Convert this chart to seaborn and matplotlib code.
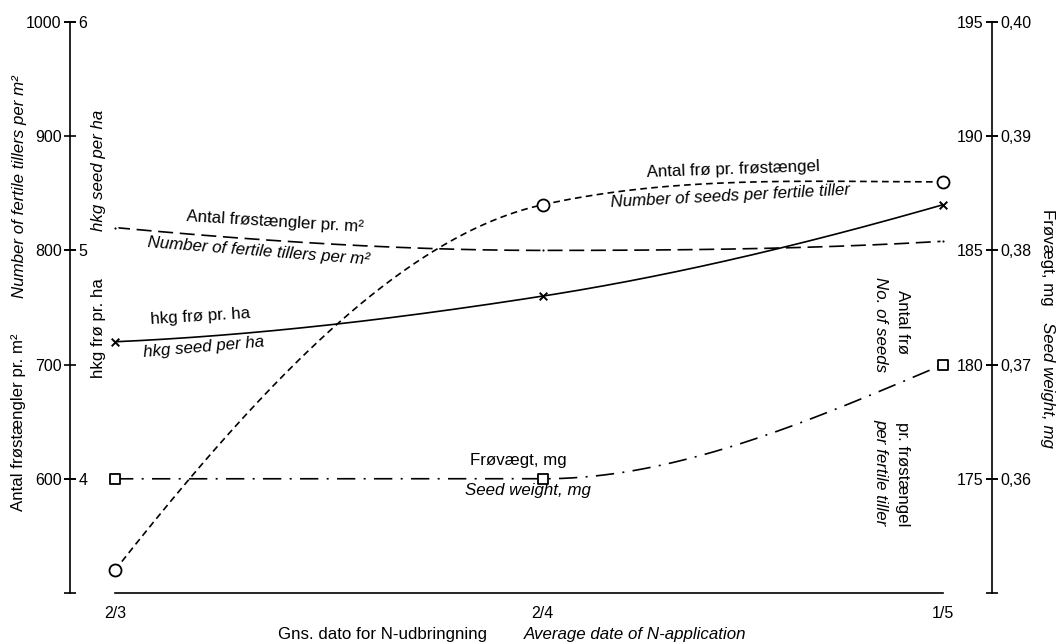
import numpy as np
import pandas as pd
import matplotlib
matplotlib.use("Agg")
import matplotlib.pyplot as plt
import seaborn as sns

# Average N-application dates (days after 2 March) and their labels
dates = [0, 31, 60]
date_labels = ["2/3", "2/4", "1/5"]

# Measured responses at each application date
tillers = [820, 800, 808]            # fertile tillers per m²
seed_yield = [4.6, 4.8, 5.2]         # hkg seed per ha
seeds_per_tiller = [171, 187, 188]   # number of seeds per fertile tiller
seed_weight = [0.36, 0.36, 0.37]     # seed weight, mg

# Axis scales
tiller_ticks = [600, 700, 800, 900, 1000]
yield_ticks = [4, 5, 6]
seed_ticks = [175, 180, 185, 190, 195]
weight_ticks = [0.36, 0.37, 0.38, 0.39, 0.40]
weight_labels = ["0,36", "0,37", "0,38", "0,39", "0,40"]

W, H = 1059, 643


def smooth_curve(x, y, n=240):
    """Cubic Hermite curve through the measured points (geometric-mean tangents)."""
    x = np.asarray(x, float)
    y = np.asarray(y, float)
    h = np.diff(x)
    d = np.diff(y) / h
    m = np.zeros_like(y)
    for k in range(1, len(x) - 1):
        if d[k - 1] * d[k] > 0:
            m[k] = np.sign(d[k]) * np.sqrt(d[k - 1] * d[k])

    def end(h0, h1, d0, d1):
        s = ((2 * h0 + h1) * d0 - h0 * d1) / (h0 + h1)
        if np.sign(s) != np.sign(d0):
            s = 0.0
        elif np.sign(d0) != np.sign(d1) and abs(s) > abs(3 * d0):
            s = 3 * d0
        return s

    m[0] = end(h[0], h[1], d[0], d[1])
    m[-1] = end(h[-1], h[-2], d[-1], d[-2])
    xs = np.linspace(x[0], x[-1], n)
    idx = np.clip(np.searchsorted(x, xs, side="right") - 1, 0, len(x) - 2)
    t = (xs - x[idx]) / h[idx]
    h00 = 2 * t**3 - 3 * t**2 + 1
    h10 = t**3 - 2 * t**2 + t
    h01 = -2 * t**3 + 3 * t**2
    h11 = t**3 - t**2
    ys = (h00 * y[idx] + h10 * h[idx] * m[idx]
          + h01 * y[idx + 1] + h11 * h[idx] * m[idx + 1])
    return xs, ys


def fig_xy(px, py):
    return px / W, 1 - py / H


sns.set_theme(style="white", rc={
    "axes.edgecolor": "black", "text.color": "black",
    "axes.labelcolor": "black", "xtick.color": "black", "ytick.color": "black",
})
plt.rcParams["font.family"] = ["Liberation Sans", "DejaVu Sans"]

fig = plt.figure(figsize=(W / 100, H / 100), dpi=100)
ax = fig.add_axes([115 / W, (H - 593) / H, (943 - 115) / W, (593 - 22) / H])
ax_yield = ax.twinx()
ax_seed = ax.twinx()
ax_wt = ax.twinx()

LEFT_X = -3.26
RIGHT_X = 63.55
LW = 1.2


def draw(axis, values, marker, size, filled, dash):
    xs, ys = smooth_curve(dates, values)
    curve = pd.DataFrame({"x": xs, "y": ys})
    sns.lineplot(data=curve, x="x", y="y", ax=axis, color="black",
                 linewidth=LW, sort=False, estimator=None, legend=False)
    axis.lines[-1].set_linestyle(dash)
    pts = pd.DataFrame({"x": dates, "y": values})
    if filled:
        sns.scatterplot(data=pts, x="x", y="y", ax=axis, marker=marker, s=size,
                        color="white", edgecolor="black", linewidth=1.3,
                        legend=False, zorder=5)
    else:
        sns.scatterplot(data=pts, x="x", y="y", ax=axis, marker=marker, s=size,
                        color="black", linewidth=1.4, legend=False, zorder=5)
    axis.collections[-1].set_clip_on(False)
    axis.set_xlabel("")
    axis.set_ylabel("")


draw(ax, tillers, "o", 9, False, (0, (9, 4)))
draw(ax_yield, seed_yield, "x", 30, False, "-")
draw(ax_seed, seeds_per_tiller, "o", 75, True, (0, (4, 2.6)))
draw(ax_wt, seed_weight, "s", 60, True, (0, (11, 5, 1.2, 5)))

# scales
ax.set_xlim(0, 60)
ax.set_ylim(500, 1000)
ax_yield.set_ylim(3.5, 6)
ax_seed.set_ylim(170, 195)
ax_wt.set_ylim(0.35, 0.40)

# bottom date axis
ax.set_xticks(dates, date_labels)
ax.tick_params(axis="x", direction="out", length=4, width=LW, pad=5, labelsize=11.5)
ax.spines["bottom"].set_bounds(0, 60)
ax.spines["bottom"].set_linewidth(LW)
ax.spines["top"].set_visible(False)
ax.spines["right"].set_visible(False)

# left: fertile tillers per m² (outer labels) and hkg seed per ha (inner labels)
ax.spines["left"].set_position(("data", LEFT_X))
ax.spines["left"].set_linewidth(LW)
ax.yaxis.tick_left()
ax.set_yticks(tiller_ticks)
ax.set_yticks([500], minor=True)
ax.tick_params(axis="y", which="both", direction="inout", length=8, width=LW,
               pad=2, labelsize=11.5)

for s in ax_yield.spines.values():
    s.set_visible(False)
ax_yield.spines["right"].set_position(("data", LEFT_X))
ax_yield.yaxis.tick_right()
ax_yield.set_yticks(yield_ticks)
ax_yield.tick_params(axis="y", direction="inout", length=8, width=LW,
                     pad=2, labelsize=11.5)

# right: seeds per tiller (inner labels) and seed weight (outer labels)
for s in ax_seed.spines.values():
    s.set_visible(False)
ax_seed.spines["left"].set_visible(True)
ax_seed.spines["left"].set_linewidth(LW)
ax_seed.spines["left"].set_position(("data", RIGHT_X))
ax_seed.yaxis.tick_left()
ax_seed.set_yticks(seed_ticks)
ax_seed.set_yticks([170], minor=True)
ax_seed.tick_params(axis="y", which="both", direction="inout", length=8,
                    width=LW, pad=2, labelsize=11.5)

for s in ax_wt.spines.values():
    s.set_visible(False)
ax_wt.spines["right"].set_position(("data", RIGHT_X))
ax_wt.yaxis.tick_right()
ax_wt.set_yticks(weight_ticks, weight_labels)
ax_wt.tick_params(axis="y", direction="inout", length=8, width=LW,
                  pad=2, labelsize=11.5)

# curve labels, placed in tiller/date coordinates
FS = 12.2
curve_labels = [
    ("Antal frøstængler pr. m²", 11.6, 825, -3.5, "normal"),
    ("Number of fertile tillers per m²", 10.4, 799, -4.5, "italic"),
    ("hkg frø pr. ha", 6.2, 742, 3.5, "normal"),
    ("hkg seed per ha", 6.45, 715, 5, "italic"),
    ("Antal frø pr. frøstængel", 44.8, 871, 2, "normal"),
    ("Number of seeds per fertile tiller", 44.6, 847, 3, "italic"),
    ("Frøvægt, mg", 29.2, 616, 0, "normal"),
    ("Seed weight, mg", 29.9, 590, 0, "italic"),
    ("Antal frø", 57.1, 737, -90, "normal"),
    ("No. of seeds", 55.5, 735, -90, "italic"),
    ("pr. frøstængel", 57.1, 604, -90, "normal"),
    ("per fertile tiller", 55.5, 606, -90, "italic"),
]
for txt, x, y, rot, style in curve_labels:
    ax.text(x, y, txt, rotation=rot, rotation_mode="anchor", ha="center",
            va="center", fontsize=FS, fontstyle=style, clip_on=False)

# axis titles
axis_titles = [
    ("Number of fertile tillers per m²", 20, 187, 90, "italic"),
    ("Antal frøstængler pr. m²", 19, 422, 90, "normal"),
    ("hkg seed per ha", 99, 170, 90, "italic"),
    ("hkg frø pr. ha", 99, 328, 90, "normal"),
    ("Frøvægt, mg", 1047, 257, -90, "normal"),
    ("Seed weight, mg", 1047, 385, -90, "italic"),
    ("Gns. dato for N-udbringning", 382, 634, 0, "normal"),
    ("Average date of N-application", 635, 634, 0, "italic"),
]
for txt, px, py, rot, style in axis_titles:
    fx, fy = fig_xy(px, py)
    fig.text(fx, fy, txt, rotation=rot, rotation_mode="anchor", ha="center",
             va="center", fontsize=FS, fontstyle=style)

fig.savefig("out.png", dpi=100, facecolor="white")
